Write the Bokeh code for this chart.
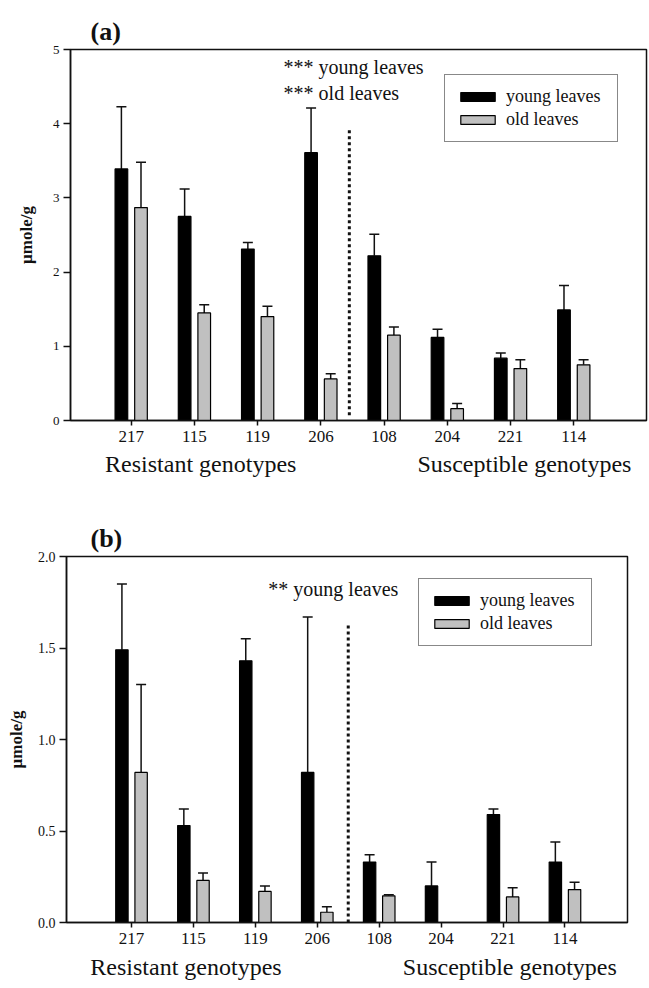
from bokeh.plotting import figure
from bokeh.models import (ColumnDataSource, Whisker, TeeHead, Legend, LegendItem,
                          FixedTicker, Label, PrintfTickFormatter, LinearAxis)
from bokeh.embed import file_html
from bokeh.resources import INLINE

# ---------------- data ----------------
genotypes = ["217", "115", "119", "206", "108", "204", "221", "114"]
group_names = ["Resistant genotypes", "Susceptible genotypes"]

a_young = [3.39, 2.75, 2.31, 3.61, 2.22, 1.12, 0.84, 1.49]
a_young_err = [0.84, 0.37, 0.09, 0.60, 0.29, 0.11, 0.07, 0.33]
a_old = [2.87, 1.45, 1.40, 0.56, 1.15, 0.16, 0.70, 0.75]
a_old_err = [0.61, 0.11, 0.14, 0.07, 0.11, 0.07, 0.12, 0.07]

b_young = [1.49, 0.53, 1.43, 0.82, 0.33, 0.20, 0.59, 0.33]
b_young_err = [0.36, 0.09, 0.12, 0.85, 0.04, 0.13, 0.03, 0.11]
b_old = [0.82, 0.23, 0.17, 0.056, 0.146, float("nan"), 0.14, 0.18]
b_old_err = [0.48, 0.04, 0.03, 0.03, 0.005, float("nan"), 0.05, 0.04]

a_yticks = [0, 1, 2, 3, 4, 5]
b_yticks = [0.0, 0.5, 1.0, 1.5, 2.0]

a_notes = ["*** young leaves", "*** old leaves"]
b_notes = ["** young leaves"]

FONT = "Liberation Serif"
GRAY = "#c0c0c0"
INK = "#111111"


def panel(title, young, young_err, old, old_err, yticks, yfmt, notes,
          xr, yr, divider, note_pos, group_pos, legend_loc, borders, frame,
          title_offset, ylab_standoff, ytick_size, group_standoff):
    n = len(young)
    p = figure(frame_width=frame[0], frame_height=frame[1], x_range=xr, y_range=yr,
               output_backend="svg", toolbar_location=None,
               min_border_left=borders[0], min_border_right=borders[1],
               min_border_top=borders[2], min_border_bottom=borders[3])
    p.title.text = title
    p.title.text_font = FONT
    p.title.text_font_size = "26px"
    p.title.text_font_style = "bold"
    p.title.align = "left"
    p.title.offset = title_offset
    p.title.standoff = 8
    p.title.text_color = INK

    off = 0.155
    bw = 0.2
    src_y = ColumnDataSource(dict(x=[i - off for i in range(n)], top=young,
                                  hi=[v + e for v, e in zip(young, young_err)]))
    src_o = ColumnDataSource(dict(x=[i + off for i in range(n)], top=old,
                                  hi=[v + e for v, e in zip(old, old_err)]))

    for src in (src_y, src_o):
        p.add_layout(Whisker(base="x", lower="top", upper="hi", source=src,
                             dimension="height", line_color=INK, line_width=1.5,
                             lower_head=None,
                             upper_head=TeeHead(size=10, line_color=INK, line_width=1.5)))
    r1 = p.vbar(x="x", top="top", bottom=0, width=bw, source=src_y,
                fill_color="black", line_color="black", line_width=1.2)
    r2 = p.vbar(x="x", top="top", bottom=0, width=bw, source=src_o,
                fill_color=GRAY, line_color="black", line_width=1.2)

    # dotted divider between groups
    p.segment(x0=[divider[0]], y0=[divider[1]], x1=[divider[0]], y1=[divider[2]],
              line_color=INK, line_width=3, line_dash="3 3")

    # axes
    p.xgrid.visible = False
    p.ygrid.visible = False
    p.outline_line_color = INK
    p.outline_line_width = 1.5
    p.outline_line_alpha = 1.0

    xa = p.xaxis[0]
    xa.ticker = FixedTicker(ticks=list(range(n)))
    xa.major_label_overrides = {i: g for i, g in enumerate(genotypes)}
    xa.major_label_text_font = FONT
    xa.major_label_text_font_size = "17px"
    xa.major_label_text_color = INK
    xa.major_tick_in = 0
    xa.major_tick_out = 5
    xa.minor_tick_line_color = None
    xa.axis_line_width = 1.5
    xa.axis_line_color = INK
    xa.major_tick_line_color = INK
    xa.major_tick_line_width = 1.5
    xa.major_label_standoff = 5

    # group names as a second, line-less axis below the first
    ga = LinearAxis(ticker=FixedTicker(ticks=list(group_pos)),
                    major_label_overrides={gp: gn for gp, gn in zip(group_pos, group_names)},
                    axis_line_color=None, major_tick_line_color=None,
                    minor_tick_line_color=None, major_tick_in=0, major_tick_out=0,
                    major_label_standoff=group_standoff,
                    major_label_text_font=FONT, major_label_text_font_size="24px",
                    major_label_text_color=INK)
    p.add_layout(ga, "below")

    ya = p.yaxis[0]
    ya.ticker = FixedTicker(ticks=yticks)
    ya.formatter = PrintfTickFormatter(format=yfmt)
    ya.major_label_text_font = FONT
    ya.major_label_text_font_size = ytick_size
    ya.major_label_text_color = INK
    ya.major_tick_in = 0
    ya.major_tick_out = 7
    ya.minor_tick_line_color = None
    ya.axis_line_width = 1.5
    ya.axis_line_color = INK
    ya.major_tick_line_color = INK
    ya.major_tick_line_width = 1.5
    ya.major_label_standoff = 4
    ya.axis_label = "\u00b5mole/g"
    ya.axis_label_text_font = FONT
    ya.axis_label_text_font_size = "17px"
    ya.axis_label_text_font_style = "bold"
    ya.axis_label_text_color = INK
    ya.axis_label_standoff = ylab_standoff

    # significance notes
    for k, t in enumerate(notes):
        p.add_layout(Label(x=note_pos[0], y=note_pos[1] - k * note_pos[2], text=t,
                           text_font=FONT, text_font_size="20px", text_color=INK,
                           text_align="left", text_baseline="middle"))

    legend = Legend(items=[LegendItem(label="young leaves", renderers=[r1]),
                           LegendItem(label="old leaves", renderers=[r2])],
                    location=legend_loc, orientation="vertical",
                    glyph_width=43, glyph_height=11, label_standoff=7,
                    label_width=100, label_height=20, spacing=2, padding=11,
                    label_text_font=FONT, label_text_font_size="18px",
                    label_text_color=INK,
                    border_line_color=INK, border_line_width=1.5,
                    background_fill_color="white", background_fill_alpha=1.0)
    p.add_layout(legend)
    return p


pa = panel("(a)", a_young, a_young_err, a_old, a_old_err, a_yticks, "%d", a_notes,
           xr=(-0.96, 8.15), yr=(0, 5), divider=(3.45, 0.07, 3.94),
           note_pos=(2.41, 4.77, 0.35), group_pos=(1.10, 6.22),
           legend_loc=(374, 278), borders=(70, 3, 49, 70), frame=(576, 371),
           title_offset=20, ylab_standoff=14, ytick_size="13px", group_standoff=6)

pb = panel("(b)", b_young, b_young_err, b_old, b_old_err, b_yticks, "%.1f", b_notes,
           xr=(-1.05, 8.01), yr=(0, 2), divider=(3.50, 0.0, 1.64),
           note_pos=(2.21, 1.825, 0.0), group_pos=(0.88, 6.11),
           legend_loc=(352, 276), borders=(66, 22, 66, 66), frame=(561, 366),
           title_offset=24, ylab_standoff=9, ytick_size="14px", group_standoff=7)

open("out.html", "w").write(file_html([pa, pb], INLINE))
